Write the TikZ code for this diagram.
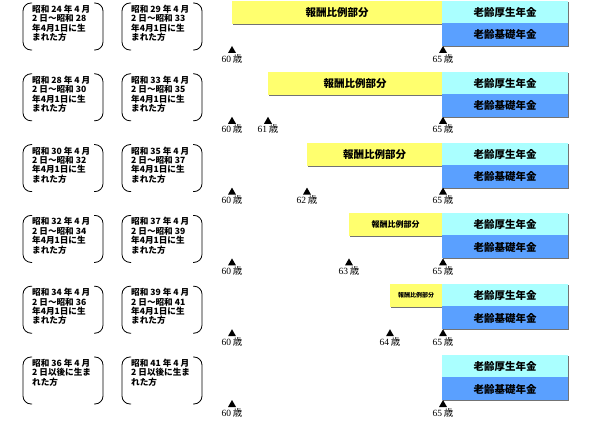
\documentclass[tikz,border=0pt]{standalone}
\usepackage{fontspec}
\setmainfont{Liberation Serif}
\newfontfamily\cjk{Noto Sans CJK JP}
\usepackage{tikz}
\usetikzlibrary{calc,positioning}
\definecolor{kohyellow}{RGB}{255,255,110}
\definecolor{kohcyan}{RGB}{170,255,255}
\definecolor{kohblue}{RGB}{90,160,255}
\tikzset{
  bar/.style={inner sep=0pt,anchor=north west,font=\cjk\bfseries\fontsize{10}{10}\selectfont},
  age/.style={font=\fontsize{9.5}{9.5}\selectfont,inner sep=1pt,anchor=north},
  who/.style={align=left,font=\cjk\bfseries\fontsize{8.6}{9.4}\selectfont,inner sep=0pt,anchor=north west}
}
\begin{document}
\begin{tikzpicture}[x=1pt,y=-1pt]
  \useasboundingbox (0,0) rectangle (600,425);
  % rows: offset, start of yellow bar, age, text size
  \foreach \r/\ys/\ag/\fs/\la/\lb in {
      0/232/60/10.5/{24 年 4 月\\2 日～昭和 28}/{29 年 4 月\\2 日～昭和 33},
      1/268/61/10.5/{28 年 4 月\\2 日～昭和 30}/{33 年 4 月\\2 日～昭和 35},
      2/307/62/10.5/{30 年 4 月\\2 日～昭和 32}/{35 年 4 月\\2 日～昭和 37},
      3/349/63/8/{32 年 4 月\\2 日～昭和 34}/{37 年 4 月\\2 日～昭和 39},
      4/390/64/6/{34 年 4 月\\2 日～昭和 36}/{39 年 4 月\\2 日～昭和 41}}{
    \pgfmathsetmacro{\yo}{\r*70.8}
    % yellow bar
    \fill[black!55] (\ys+1,\yo+2) rectangle (443,\yo+25);
    \fill[kohyellow] (\ys,\yo+1) rectangle (442,\yo+24);
    \node[font=\cjk\bfseries\fontsize{\fs}{\fs}\selectfont] (hr\r) at ({(\ys+442)/2},\yo+12.5) {報酬比例部分};
    % left texts
    \node[who] (wa\r) at (32,\yo+5) {昭和 \la\\年4月1日に生\\まれた方};
    \node[who] (wb\r) at (131,\yo+5) {昭和 \lb\\年4月1日に生\\まれた方};
    % age marker
    \ifnum\ag>60
      \fill (\ys-4,\yo+53) -- (\ys+4,\yo+53) -- (\ys,\yo+46) -- cycle;
      \node[age] (ag\r) at (\ys,\yo+53) {\ag\,{\cjk 歳}};
    \fi
  }
  \foreach \r in {0,...,5}{
    \pgfmathsetmacro{\yo}{\r*70.8}
    % pension bars
    \fill[black!55] (443,\yo+2) rectangle (569,\yo+47);
    \fill[kohcyan] (442,\yo+1) rectangle (568,\yo+23);
    \fill[kohblue] (442,\yo+23) rectangle (568,\yo+46);
    \node[font=\cjk\bfseries\fontsize{10.5}{10.5}\selectfont] (kn\r) at (505,\yo+12.5) {老齢厚生年金};
    \node[font=\cjk\bfseries\fontsize{10.5}{10.5}\selectfont] (kb\r) at (505,\yo+35) {老齢基礎年金};
    % brackets
    \foreach \bx in {23,122}{
      \draw[line width=0.8pt,rounded corners=8] (\bx+9,\yo+3) -- (\bx,\yo+3) -- (\bx,\yo+50) -- (\bx+9,\yo+50);
      \draw[line width=0.8pt,rounded corners=8] (\bx+71,\yo+3) -- (\bx+80,\yo+3) -- (\bx+80,\yo+50) -- (\bx+71,\yo+50);
    }
    % 60 and 65 markers
    \fill (228,\yo+53) -- (236,\yo+53) -- (232,\yo+46) -- cycle;
    \node[age] (as\r) at (232,\yo+53) {60\,{\cjk 歳}};
    \fill (439,\yo+53) -- (447,\yo+53) -- (443,\yo+46) -- cycle;
    \node[age] (af\r) at (443,\yo+53) {65\,{\cjk 歳}};
  }
  \node[who] (wa5) at (32,359) {昭和 36 年 4 月\\2 日以後に生ま\\れた方};
  \node[who] (wb5) at (131,359) {昭和 41 年 4 月\\2 日以後に生ま\\れた方};
\end{tikzpicture}
\end{document}
